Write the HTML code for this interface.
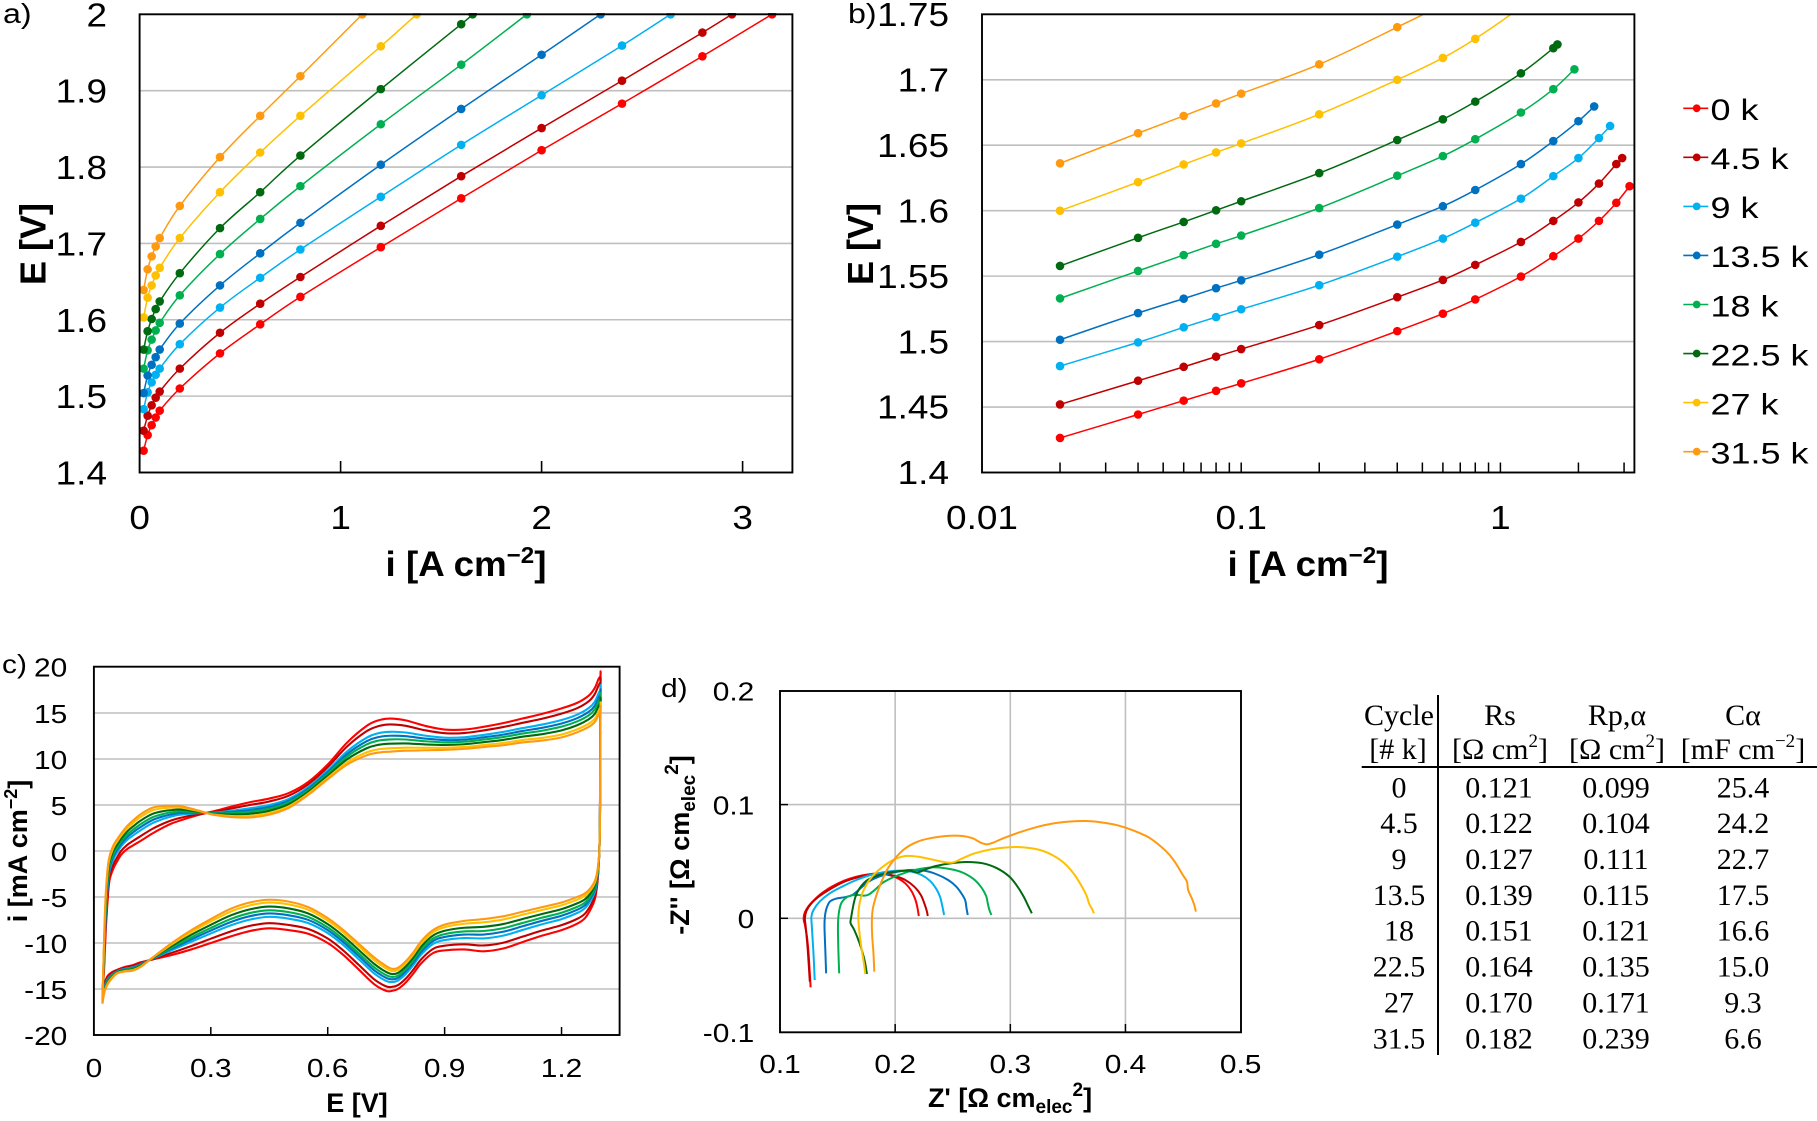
<!DOCTYPE html>
<html><head><meta charset="utf-8">
<style>
html,body{margin:0;padding:0;background:#fff;width:1817px;height:1121px;overflow:hidden;}
svg{display:block;}
text{font-family:"Liberation Sans",Arial,sans-serif;fill:#000;}
.b{font-weight:bold;}
.serif{font-family:"Liberation Serif","Times New Roman",serif;}
</style></head><body>
<svg id="s" width="1817" height="1121" viewBox="0 0 1817 1121" xmlns="http://www.w3.org/2000/svg">
<defs>
<clipPath id="ca"><rect x="139.6" y="13" width="652.8" height="460"/></clipPath>
<clipPath id="cb"><rect x="982" y="14.3" width="652.4" height="458.2"/></clipPath>
<clipPath id="cc"><rect x="93.9" y="666.7" width="525.7" height="368.3"/></clipPath>
<clipPath id="cd"><rect x="780" y="691" width="461" height="341.3"/></clipPath>
</defs>
<rect x="0" y="0" width="1817" height="1121" fill="#fff"/>
<g id="grids"></g>
<g id="series"></g>
<g id="frames"></g>

<!-- Panel a texts -->
<text transform="translate(3,23) scale(1.15,1)" font-size="28">a)</text>
<g font-size="33" text-anchor="end">
<text transform="translate(107,26.3) scale(1.12,1)">2</text>
<text transform="translate(107,102.7) scale(1.12,1)">1.9</text>
<text transform="translate(107,179.1) scale(1.12,1)">1.8</text>
<text transform="translate(107,255.4) scale(1.12,1)">1.7</text>
<text transform="translate(107,331.8) scale(1.12,1)">1.6</text>
<text transform="translate(107,408.2) scale(1.12,1)">1.5</text>
<text transform="translate(107,484.5) scale(1.12,1)">1.4</text>
</g>
<g font-size="33" text-anchor="middle">
<text transform="translate(139.6,529) scale(1.12,1)">0</text>
<text transform="translate(340.6,529) scale(1.12,1)">1</text>
<text transform="translate(541.6,529) scale(1.12,1)">2</text>
<text transform="translate(742.6,529) scale(1.12,1)">3</text>
</g>
<text class="b" font-size="36" text-anchor="middle" transform="translate(45.5,244) rotate(-90)">E [V]</text>
<text class="b" font-size="35" text-anchor="middle" transform="translate(466,576) scale(1.05,1)">i [A cm<tspan dy="-13" font-size="23">−2</tspan><tspan dy="13">]</tspan></text>

<!-- Panel b texts -->
<text transform="translate(848,23) scale(1.15,1)" font-size="28">b)</text>
<g font-size="33" text-anchor="end">
<text transform="translate(949,26) scale(1.12,1)">1.75</text>
<text transform="translate(949,91.5) scale(1.12,1)">1.7</text>
<text transform="translate(949,156.9) scale(1.12,1)">1.65</text>
<text transform="translate(949,222.4) scale(1.12,1)">1.6</text>
<text transform="translate(949,287.8) scale(1.12,1)">1.55</text>
<text transform="translate(949,353.3) scale(1.12,1)">1.5</text>
<text transform="translate(949,418.7) scale(1.12,1)">1.45</text>
<text transform="translate(949,484.2) scale(1.12,1)">1.4</text>
</g>
<g font-size="33" text-anchor="middle">
<text transform="translate(982,529) scale(1.12,1)">0.01</text>
<text transform="translate(1241.2,529) scale(1.12,1)">0.1</text>
<text transform="translate(1500.4,529) scale(1.12,1)">1</text>
</g>
<text class="b" font-size="36" text-anchor="middle" transform="translate(873,244) rotate(-90)">E [V]</text>
<text class="b" font-size="35" text-anchor="middle" transform="translate(1308,576) scale(1.05,1)">i [A cm<tspan dy="-13" font-size="23">−2</tspan><tspan dy="13">]</tspan></text>

<!-- Legend -->
<g id="legend" font-size="29.5">
<text transform="translate(1710.5,120) scale(1.22,1)">0 k</text>
<text transform="translate(1710.5,169.1) scale(1.22,1)">4.5 k</text>
<text transform="translate(1710.5,218.2) scale(1.22,1)">9 k</text>
<text transform="translate(1710.5,267.2) scale(1.22,1)">13.5 k</text>
<text transform="translate(1710.5,316.3) scale(1.22,1)">18 k</text>
<text transform="translate(1710.5,365.3) scale(1.22,1)">22.5 k</text>
<text transform="translate(1710.5,414.3) scale(1.22,1)">27 k</text>
<text transform="translate(1710.5,463.3) scale(1.22,1)">31.5 k</text>
</g>

<!-- Panel c texts -->
<text transform="translate(2,673) scale(1.15,1)" font-size="26">c)</text>
<g font-size="26" text-anchor="end">
<text transform="translate(67.3,676.7) scale(1.15,1)">20</text>
<text transform="translate(67.3,723) scale(1.15,1)">15</text>
<text transform="translate(67.3,769) scale(1.15,1)">10</text>
<text transform="translate(67.3,815) scale(1.15,1)">5</text>
<text transform="translate(67.3,861) scale(1.15,1)">0</text>
<text transform="translate(67.3,907) scale(1.15,1)">-5</text>
<text transform="translate(67.3,953) scale(1.15,1)">-10</text>
<text transform="translate(67.3,999) scale(1.15,1)">-15</text>
<text transform="translate(67.3,1045) scale(1.15,1)">-20</text>
</g>
<g font-size="26" text-anchor="middle">
<text transform="translate(93.9,1077) scale(1.15,1)">0</text>
<text transform="translate(210.8,1077) scale(1.15,1)">0.3</text>
<text transform="translate(327.7,1077) scale(1.15,1)">0.6</text>
<text transform="translate(444.6,1077) scale(1.15,1)">0.9</text>
<text transform="translate(561.5,1077) scale(1.15,1)">1.2</text>
</g>
<text class="b" font-size="27" text-anchor="middle" transform="translate(27,851) rotate(-90)">i [mA cm<tspan dy="-10" font-size="18">−2</tspan><tspan dy="10">]</tspan></text>
<text class="b" font-size="27" text-anchor="middle" transform="translate(357,1112)">E [V]</text>

<!-- Panel d texts -->
<text transform="translate(661,697) scale(1.15,1)" font-size="26">d)</text>
<g font-size="26" text-anchor="end">
<text transform="translate(754.3,700.5) scale(1.15,1)">0.2</text>
<text transform="translate(754.3,814.5) scale(1.15,1)">0.1</text>
<text transform="translate(754.3,927.8) scale(1.15,1)">0</text>
<text transform="translate(754.3,1041.8) scale(1.15,1)">-0.1</text>
</g>
<g font-size="26" text-anchor="middle">
<text transform="translate(780,1073) scale(1.15,1)">0.1</text>
<text transform="translate(895.2,1073) scale(1.15,1)">0.2</text>
<text transform="translate(1010.3,1073) scale(1.15,1)">0.3</text>
<text transform="translate(1125.5,1073) scale(1.15,1)">0.4</text>
<text transform="translate(1240.6,1073) scale(1.15,1)">0.5</text>
</g>
<text class="b" font-size="27" text-anchor="middle" transform="translate(689,845) rotate(-90)">-Z'' [Ω cm<tspan dy="6" font-size="19">elec</tspan><tspan dy="-17" font-size="19">2</tspan><tspan dy="11">]</tspan></text>
<text class="b" font-size="27" text-anchor="middle" transform="translate(1010,1107)">Z' [Ω cm<tspan dy="6" font-size="19">elec</tspan><tspan dy="-17" font-size="19">2</tspan><tspan dy="11">]</tspan></text>

<!-- Table -->
<g class="serif" font-size="30" text-anchor="middle">
<line x1="1438" y1="695" x2="1438" y2="1055" stroke="#000" stroke-width="2"/>
<line x1="1361.7" y1="767" x2="1817" y2="767" stroke="#000" stroke-width="2"/>
<text class="serif" x="1399" y="725">Cycle</text>
<text class="serif" x="1500" y="725">Rs</text>
<text class="serif" x="1617" y="725">Rp,α</text>
<text class="serif" x="1743" y="725">Cα</text>
<text class="serif" x="1398" y="759">[# k]</text>
<text class="serif" x="1500" y="759">[Ω cm<tspan dy="-12" font-size="19">2</tspan><tspan dy="12">]</tspan></text>
<text class="serif" x="1617" y="759">[Ω cm<tspan dy="-12" font-size="19">2</tspan><tspan dy="12">]</tspan></text>
<text class="serif" x="1743" y="759">[mF cm<tspan dy="-12" font-size="19">−2</tspan><tspan dy="12">]</tspan></text>

<text class="serif" x="1399" y="797.3">0</text><text class="serif" x="1499" y="797.3">0.121</text><text class="serif" x="1616" y="797.3">0.099</text><text class="serif" x="1743" y="797.3">25.4</text>
<text class="serif" x="1399" y="833.2">4.5</text><text class="serif" x="1499" y="833.2">0.122</text><text class="serif" x="1616" y="833.2">0.104</text><text class="serif" x="1743" y="833.2">24.2</text>
<text class="serif" x="1399" y="869.0">9</text><text class="serif" x="1499" y="869.0">0.127</text><text class="serif" x="1616" y="869.0">0.111</text><text class="serif" x="1743" y="869.0">22.7</text>
<text class="serif" x="1399" y="904.9">13.5</text><text class="serif" x="1499" y="904.9">0.139</text><text class="serif" x="1616" y="904.9">0.115</text><text class="serif" x="1743" y="904.9">17.5</text>
<text class="serif" x="1399" y="940.7">18</text><text class="serif" x="1499" y="940.7">0.151</text><text class="serif" x="1616" y="940.7">0.121</text><text class="serif" x="1743" y="940.7">16.6</text>
<text class="serif" x="1399" y="976.6">22.5</text><text class="serif" x="1499" y="976.6">0.164</text><text class="serif" x="1616" y="976.6">0.135</text><text class="serif" x="1743" y="976.6">15.0</text>
<text class="serif" x="1399" y="1012.4">27</text><text class="serif" x="1499" y="1012.4">0.170</text><text class="serif" x="1616" y="1012.4">0.171</text><text class="serif" x="1743" y="1012.4">9.3</text>
<text class="serif" x="1399" y="1048.3">31.5</text><text class="serif" x="1499" y="1048.3">0.182</text><text class="serif" x="1616" y="1048.3">0.239</text><text class="serif" x="1743" y="1048.3">6.6</text>
</g>
</svg>
<script>
(function(){
const NS="http://www.w3.org/2000/svg";
const G=document.getElementById('grids'),S=document.getElementById('series'),F=document.getElementById('frames');
function el(tag,a,p){const e=document.createElementNS(NS,tag);for(const k in a)e.setAttribute(k,a[k]);p.appendChild(e);return e;}
function smooth(pts){
  let d='M'+pts[0][0].toFixed(2)+','+pts[0][1].toFixed(2);
  for(let i=0;i<pts.length-1;i++){
    const p0=pts[i-1]||pts[i],p1=pts[i],p2=pts[i+1],p3=pts[i+2]||p2,t=1/6;
    d+='C'+(p1[0]+(p2[0]-p0[0])*t).toFixed(2)+','+(p1[1]+(p2[1]-p0[1])*t).toFixed(2)+' '+
       (p2[0]-(p3[0]-p1[0])*t).toFixed(2)+','+(p2[1]-(p3[1]-p1[1])*t).toFixed(2)+' '+
       p2[0].toFixed(2)+','+p2[1].toFixed(2);
  }
  return d;
}
const C=['#ff0000','#c00000','#00b0f0','#0070c0','#00b050','#006a10','#ffc000','#ff9a10'];
const GR='#bfbfbf';
function hline(x1,x2,y,p,c,w){el('line',{x1:x1,x2:x2,y1:y,y2:y,stroke:c||GR,'stroke-width':w||1.6},p);}
function vline(x,y1,y2,p,c,w){el('line',{x1:x,x2:x,y1:y1,y2:y2,stroke:c||GR,'stroke-width':w||1.6},p);}
function frame(x,y,w,h){el('rect',{x:x,y:y,width:w,height:h,fill:'none',stroke:'#000','stroke-width':1.9},F);}

/* ---------- Panel a ---------- */
const aX=i=>139.6+i*201.0, aY=E=>472.5-(E-1.4)*763.7;
for(let k=1;k<6;k++){hline(139.6,792.4,aY(1.4+k*0.1),G);}
[1,2,3].forEach(v=>vline(aX(v),472.5,461,F,'#000',1.6));
const IA=[0.02,0.04,0.06,0.08,0.1,0.2,0.4,0.6,0.8,1.2,1.6,2.0,2.4,2.8];
const A=[
 [[1.4286,1.449,1.462,1.472,1.481,1.510,1.556,1.594,1.630,1.695,1.759,1.822,1.883,1.945],[3.147,2.0]],
 [[1.4547,1.4744,1.488,1.498,1.506,1.536,1.583,1.621,1.656,1.723,1.788,1.851,1.913,1.976],[2.947,2.0]],
 [[1.483,1.505,1.518,1.528,1.536,1.568,1.616,1.655,1.692,1.761,1.829,1.894,1.959],[2.642,2.0]],
 [[1.504,1.527,1.541,1.551,1.561,1.595,1.645,1.687,1.727,1.803,1.876,1.947],[2.294,2.0]],
 [[1.536,1.560,1.574,1.586,1.596,1.632,1.686,1.732,1.775,1.856,1.934],[1.927,2.0]],
 [[1.561,1.585,1.601,1.614,1.624,1.661,1.720,1.767,1.815,1.902,1.987],[1.657,2.0]],
 [[1.603,1.629,1.645,1.658,1.668,1.707,1.767,1.819,1.867,1.958],[1.378,2.0]],
 [[1.639,1.666,1.683,1.696,1.707,1.749,1.813,1.867,1.919],[1.108,2.0]]
];
const ga=el('g',{'clip-path':'url(#ca)'},S);
A.forEach((s,k)=>{
  const pts=s[0].map((E,j)=>[aX(IA[j]),aY(E)]);pts.push([aX(s[1][0]),aY(s[1][1])]);
  el('path',{d:smooth(pts),fill:'none',stroke:C[k],'stroke-width':1.5},ga);
  pts.forEach(p=>el('circle',{cx:p[0],cy:p[1],r:4.3,fill:C[k]},ga));
});
frame(139.6,14.3,652.8,458.2);

/* ---------- Panel b ---------- */
const bX=i=>982+(Math.log10(i)+2)*259.2, bY=E=>472.5-(E-1.4)*1309.1;
for(let k=1;k<7;k++){hline(982,1634.4,bY(1.4+k*0.05),G);}
[0.01,0.1,1].forEach(d=>{for(let m=1;m<10;m++){const v=d*m;const x=bX(v);if(x>982.5&&x<1634)vline(x,472.5,462.5,F,'#000',1.5);}});
const IB=[0.02,0.04,0.06,0.08,0.1,0.2,0.4,0.6,0.8,1.2,1.6,2.0,2.4,2.8];
const B=[
 [[1.4264,1.4443,1.4549,1.4624,1.4681,1.4865,1.5080,1.5213,1.5322,1.5497,1.5652,1.5787,1.5922,1.6060],[3.15,1.6187]],
 [[1.4520,1.4701,1.4807,1.4885,1.4943,1.5126,1.5339,1.5471,1.5586,1.5761,1.5922,1.6063,1.6207,1.6356],[2.95,1.6402]],
 [[1.4813,1.4994,1.5109,1.5187,1.5247,1.5431,1.5649,1.5787,1.5908,1.6092,1.6264,1.6402,1.6555],[2.65,1.6647]],
 [[1.5014,1.5218,1.5328,1.5408,1.5468,1.5664,1.5894,1.6034,1.6158,1.6356,1.6532,1.6684],[2.3,1.6796]],
 [[1.5330,1.5540,1.5661,1.5747,1.5810,1.6020,1.6267,1.6417,1.6546,1.6750,1.6928],[1.93,1.7080]],
 [[1.5578,1.5793,1.5914,1.6003,1.6072,1.6287,1.6540,1.6698,1.6833,1.7049,1.7241],[1.66,1.7270]],
 [[1.6,1.6218,1.6353,1.6445,1.6514,1.6736,1.7,1.7167,1.7313,1.756],[1.38,1.772]],
 [[1.6362,1.6592,1.6724,1.6819,1.6894,1.7118,1.7402,1.758],[0.8,1.776]]
];
const gb=el('g',{'clip-path':'url(#cb)'},S);
B.forEach((s,k)=>{
  const pts=s[0].map((E,j)=>[bX(IB[j]),bY(E)]);pts.push([bX(s[1][0]),bY(s[1][1])]);
  el('path',{d:smooth(pts),fill:'none',stroke:C[k],'stroke-width':1.5},gb);
  pts.forEach(p=>el('circle',{cx:p[0],cy:p[1],r:4.3,fill:C[k]},gb));
});
frame(982,14.3,652.4,458.2);

/* legend */
for(let k=0;k<8;k++){const y=108.3+k*49.05;
  el('line',{x1:1683.3,x2:1708.3,y1:y,y2:y,stroke:C[k],'stroke-width':1.6},S);
  el('circle',{cx:1696.7,cy:y,r:3.9,fill:C[k]},S);}

/* ---------- Panel c ---------- */
const cX=E=>93.9+E*389.7, cY=i=>851-9.2*i;
for(let v=-15;v<=15;v+=5){hline(93.9,619.6,cY(v),G);}
[0.3,0.6,0.9,1.2].forEach(v=>vline(cX(v),1035,1027,F,'#000',1.5));
const UE=[0.022,0.026,0.03,0.035,0.04,0.05,0.06,0.07,0.085,0.1,0.12,0.15,0.18,0.2,0.22,0.25,0.28,0.3,0.32,0.35,0.4,0.45,0.5,0.55,0.6,0.65,0.7,0.73,0.76,0.8,0.85,0.9,0.95,1.0,1.05,1.1,1.15,1.2,1.24,1.27,1.285,1.295,1.3];
const UR=[-15.5,-13,-9,-5.5,-3.2,-1.9,-1.1,-0.4,0.2,0.6,1.1,1.9,2.6,3.0,3.3,3.7,4.05,4.25,4.45,4.8,5.3,5.7,6.3,7.5,9.4,11.8,13.6,14.2,14.4,14.2,13.6,13.2,13.2,13.5,13.9,14.4,14.9,15.5,16.1,16.9,17.7,18.7,19.0];
const UO=[-16.6,-9.7,-5,-2,-0.6,0.6,1.3,1.9,2.7,3.3,4.0,4.7,4.9,4.9,4.9,4.6,4.25,4.0,3.85,3.7,3.65,3.95,4.7,6.1,7.8,9.4,10.4,10.7,10.8,10.9,10.95,11.0,11.1,11.3,11.5,11.8,12.0,12.35,12.9,13.5,14.0,14.8,15.3];
const LE=[1.3,1.2995,1.2985,1.297,1.294,1.29,1.285,1.275,1.26,1.24,1.2,1.15,1.1,1.05,1.0,0.95,0.9,0.87,0.84,0.82,0.8,0.78,0.765,0.75,0.72,0.68,0.64,0.6,0.55,0.5,0.45,0.4,0.35,0.3,0.25,0.2,0.15,0.12,0.1,0.08,0.06,0.045,0.035,0.028,0.024,0.022];
const LR=[19.0,12,4,0,-2.5,-4.2,-5.3,-6.3,-7.3,-7.9,-8.6,-9.2,-9.9,-10.6,-10.9,-10.7,-10.8,-11.1,-12.2,-13.3,-14.3,-15.0,-15.2,-15.2,-14.5,-12.9,-11.3,-10.0,-9.0,-8.6,-8.4,-8.7,-9.3,-10.0,-10.7,-11.3,-11.8,-12.1,-12.4,-12.6,-12.9,-13.2,-13.6,-14.3,-15.0,-15.5];
const LO=[15.3,9,3,0,-1.5,-2.6,-3.3,-4.0,-4.6,-5.0,-5.6,-6.1,-6.6,-7.1,-7.4,-7.6,-8.0,-8.6,-9.8,-11.0,-12.0,-12.7,-12.8,-12.5,-11.6,-10.1,-8.6,-7.3,-6.1,-5.5,-5.3,-5.6,-6.3,-7.4,-8.6,-10.0,-11.6,-12.6,-13.0,-13.1,-13.3,-13.9,-14.5,-15.2,-16.0,-16.6];
const W=[0,0.18,0.4,0.52,0.63,0.76,0.9,1.0];
const gc=el('g',{'clip-path':'url(#cc)'},S);
W.forEach((t,k)=>{
  const pts=[];
  UE.forEach((E,j)=>pts.push([cX(E),cY(UR[j]*(1-t)+UO[j]*t)]));
  LE.forEach((E,j)=>pts.push([cX(E),cY(LR[j]*(1-t)+LO[j]*t)]));
  el('path',{d:smooth(pts),fill:'none',stroke:C[k],'stroke-width':2.1,'stroke-linejoin':'round'},gc);
});
frame(93.9,666.7,525.7,368.3);

/* ---------- Panel d ---------- */
[0.2,0.3,0.4].forEach(z=>vline(780+(z-0.1)*1151.5,691,1032.3,G));
[0.1,0].forEach(z=>hline(780,1241,918.3-z*1137,G));
[0.2,0.3,0.4].forEach(z=>vline(780+(z-0.1)*1151.5,1032.3,1024,F,'#000',1.5));
[0.1,0].forEach(z=>hline(780,788,918.3-z*1137,F,'#000',1.5));
const D=[
 [[418,982],[416,940],[413,880],[409,830],[404,795],[401,778],[403,760],[412,740],[425,722],[445,700],[470,680],[500,662],[530,650],[560,643],[585,641],[610,645],[632,655],[650,670],[665,693],[675,720],[680,745],[683,768]],
 [[416,965],[411,870],[406,800],[404,775],[408,752],[420,730],[440,708],[465,688],[495,668],[525,655],[560,645],[595,642],[625,648],[650,660],[672,680],[688,705],[698,735],[703,755],[705,768]],
 [[428,960],[425,880],[421,800],[420,770],[425,750],[440,725],[465,700],[495,680],[530,660],[565,645],[600,636],[635,632],[665,635],[690,645],[710,662],[725,685],[735,710],[741,740],[745,765]],
 [[456,940],[454,870],[452,800],[453,770],[457,745],[465,725],[480,716],[500,712],[520,705],[540,685],[560,665],[585,650],[620,638],[660,630],[695,632],[725,642],[755,660],[775,680],[790,705],[797,722],[800,745],[803,765]],
 [[488,940],[486,870],[485,800],[487,760],[493,730],[505,713],[520,706],[535,705],[550,707],[560,704],[575,690],[595,668],[620,652],[650,638],[680,628],[715,622],[750,625],[785,635],[815,655],[835,680],[848,708],[852,730],[856,750],[861,765]],
 [[556,942],[550,900],[538,850],[525,810],[516,790],[517,775],[522,740],[528,710],[538,685],[555,662],[575,650],[600,640],[630,634],[660,632],[680,637],[700,628],[725,618],[760,610],[800,606],[840,610],[875,625],[905,650],[925,680],[940,710],[950,735],[960,760]],
 [[552,942],[548,905],[542,860],[537,810],[535,770],[538,730],[548,690],[565,655],[590,625],[620,600],[650,588],[680,590],[710,597],[740,605],[765,608],[790,595],[820,580],[860,568],[900,562],[940,562],[980,570],[1010,585],[1040,610],[1065,645],[1085,685],[1095,710],[1100,730],[1108,748],[1112,760]],
 [[574,935],[572,880],[569,830],[568,790],[570,750],[578,710],[590,670],[605,630],[625,595],[650,565],[680,545],[710,535],[750,528],[790,528],[815,535],[835,548],[850,553],[865,548],[890,535],[930,517],[970,502],[1010,491],[1050,485],[1090,483],[1130,487],[1170,496],[1210,512],[1250,535],[1290,575],[1310,605],[1330,645],[1340,665],[1343,690],[1352,715],[1358,735],[1362,755]]
];
const gd=el('g',{'clip-path':'url(#cd)'},S);
D.forEach((s,k)=>{
  const pts=s.map(p=>[640+p[0]/2.45,660+p[1]/3]);
  el('path',{d:smooth(pts),fill:'none',stroke:C[k],'stroke-width':2,'stroke-linejoin':'round'},gd);
});
frame(780,691,461,341.3);
})();
</script>
</body></html>
